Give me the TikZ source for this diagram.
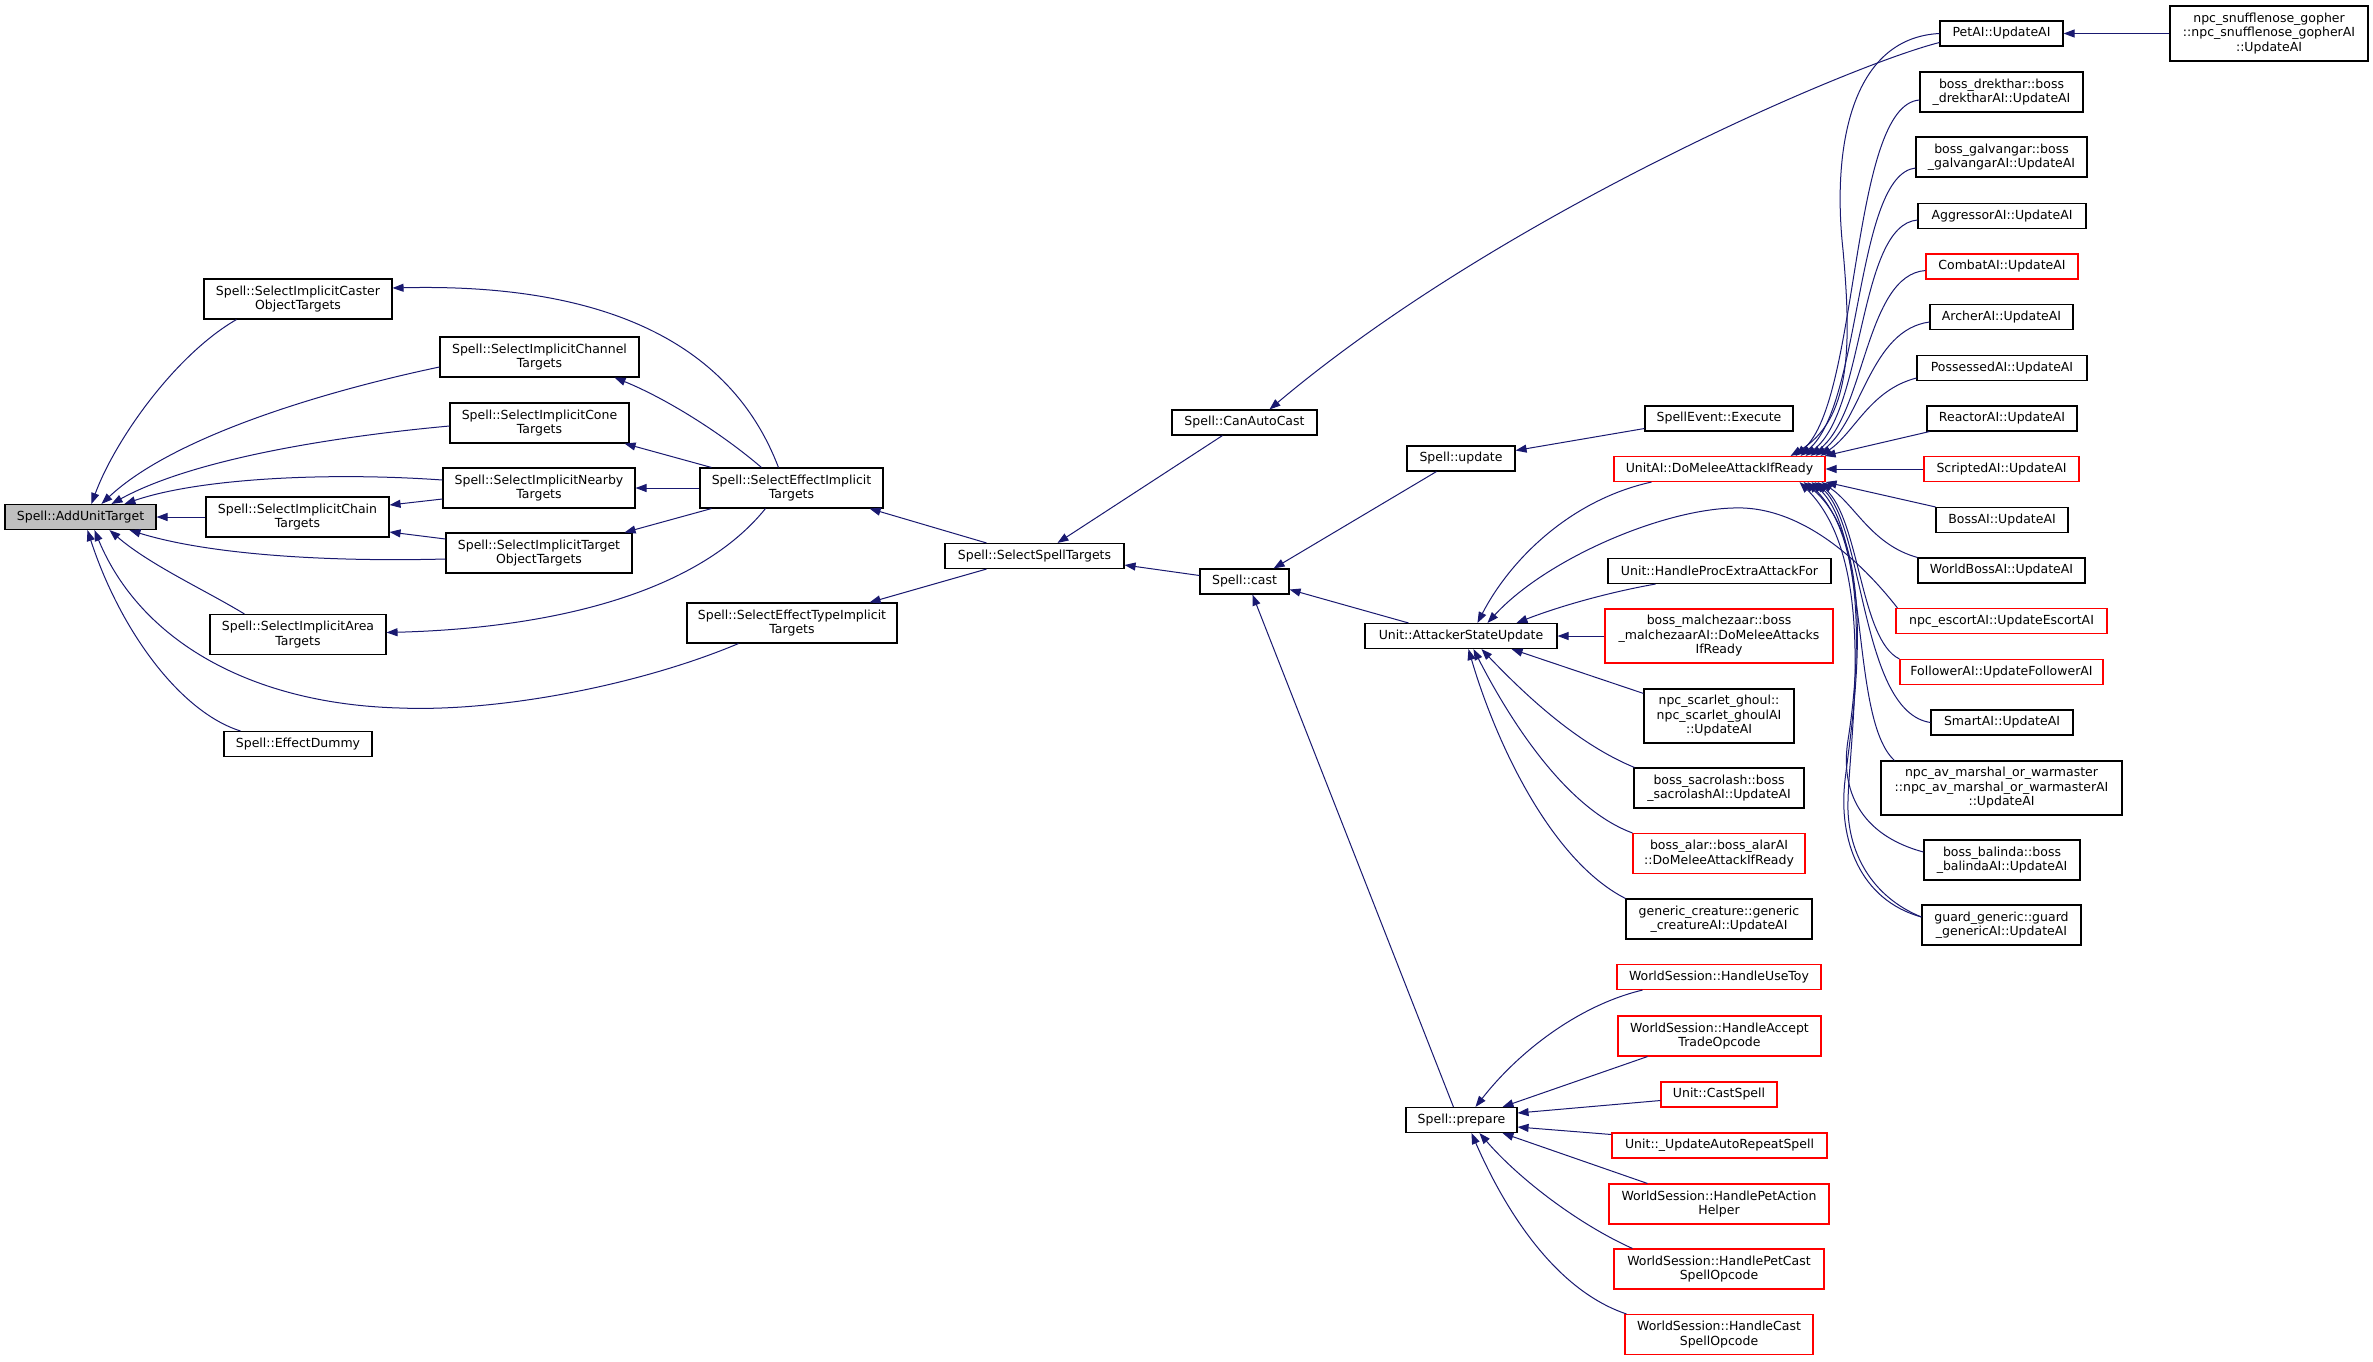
\documentclass[tikz,border=0pt]{standalone}
\usepackage{fontspec}
\setmainfont{DejaVu Sans}
\usetikzlibrary{arrows.meta}
\definecolor{edgec}{HTML}{191970}
\definecolor{gfill}{HTML}{BFBFBF}
\definecolor{redb}{HTML}{FF0000}
\begin{document}
\begin{tikzpicture}[x=1pt,y=-1pt,
  box/.style={draw=black, line width=1.1pt, rectangle, inner sep=0pt, align=center, font=\fontsize{12.5}{14.5}\selectfont},
  rbox/.style={box, draw=redb},
  bw/.style={minimum width=#1},
  h1/.style={minimum height=25pt},
  h2/.style={minimum height=40pt},
  h3/.style={minimum height=54pt},
  call/.style={draw=edgec, line width=1pt, -{Triangle[length=11pt,width=8pt]}},
  ]
\fill[white] (0,0) rectangle (2373,1361);
\useasboundingbox (0,0) rectangle (2373,1361);

% ---- nodes ----
\node[box, fill=gfill, bw=151pt, h1] (aut) at (80.5,517) {Spell::AddUnitTarget};
\node[box,bw=188pt,h2] (caster) at (298,299) {Spell::SelectImplicitCaster\\ObjectTargets};
\node[box,bw=199pt,h2] (channel) at (539.5,357) {Spell::SelectImplicitChannel\\Targets};
\node[box,bw=179pt,h2] (cone) at (539.5,423) {Spell::SelectImplicitCone\\Targets};
\node[box,bw=192pt,h2] (nearby) at (539,488) {Spell::SelectImplicitNearby\\Targets};
\node[box,bw=183pt,h2] (chain) at (297.5,517) {Spell::SelectImplicitChain\\Targets};
\node[box,bw=186pt,h2] (tobj) at (539,553) {Spell::SelectImplicitTarget\\ObjectTargets};
\node[box,bw=176pt,h2] (area) at (298,634.5) {Spell::SelectImplicitArea\\Targets};
\node[box,bw=148pt,h1] (dummy) at (298,744) {Spell::EffectDummy};
\node[box,bw=183pt,h2] (sei) at (791.5,488) {Spell::SelectEffectImplicit\\Targets};
\node[box,bw=210pt,h2] (seti) at (792,623) {Spell::SelectEffectTypeImplicit\\Targets};
\node[box,bw=179pt,h1] (sst) at (1034.5,556) {Spell::SelectSpellTargets};
\node[box,bw=145pt,h1] (cac) at (1244.5,422.5) {Spell::CanAutoCast};
\node[box,bw=89pt,h1] (cast) at (1244.5,581.5) {Spell::cast};
\node[box,bw=108pt,h1] (update) at (1461,458.5) {Spell::update};
\node[box,bw=148pt,h1] (see) at (1719,418.5) {SpellEvent::Execute};
\node[rbox,bw=211pt,h1] (domelee) at (1719.5,469) {UnitAI::DoMeleeAttackIfReady};
\node[box,bw=192pt,h1] (asu) at (1461,636) {Unit::AttackerStateUpdate};
\node[box,bw=223pt,h1] (hpeaf) at (1719.5,571) {Unit::HandleProcExtraAttackFor};
\node[rbox,bw=228pt,h3] (malch) at (1719,636) {boss\_malchezaar::boss\\\_malchezaarAI::DoMeleeAttacks\\IfReady};
\node[box,bw=150pt,h3] (ghoul) at (1719,716) {npc\_scarlet\_ghoul::\\npc\_scarlet\_ghoulAI\\::UpdateAI};
\node[box,bw=170pt,h2] (sacro) at (1719,788) {boss\_sacrolash::boss\\\_sacrolashAI::UpdateAI};
\node[rbox,bw=172pt,h2] (alar) at (1719,853.5) {boss\_alar::boss\_alarAI\\::DoMeleeAttackIfReady};
\node[box,bw=186pt,h2] (generic) at (1719,919) {generic\_creature::generic\\\_creatureAI::UpdateAI};

\node[box,bw=123pt,h1] (petai) at (2001.5,33.5) {PetAI::UpdateAI};
\node[box,bw=198pt,minimum height=55pt] (gopher) at (2269,33.5) {npc\_snufflenose\_gopher\\::npc\_snufflenose\_gopherAI\\::UpdateAI};
\node[box,bw=163pt,h2] (drek) at (2001.5,92) {boss\_drekthar::boss\\\_drektharAI::UpdateAI};
\node[box,bw=171pt,h2] (galv) at (2001.5,157) {boss\_galvangar::boss\\\_galvangarAI::UpdateAI};
\node[box,bw=168pt,h1] (aggr) at (2002,216) {AggressorAI::UpdateAI};
\node[rbox,bw=152pt,h1] (combat) at (2002,266.5) {CombatAI::UpdateAI};
\node[box,bw=143pt,h1] (archer) at (2001.5,317) {ArcherAI::UpdateAI};
\node[box,bw=170pt,h1] (poss) at (2002,368) {PossessedAI::UpdateAI};
\node[box,bw=150pt,h1] (react) at (2002,418.5) {ReactorAI::UpdateAI};
\node[rbox,bw=155pt,h1] (script) at (2001.5,469) {ScriptedAI::UpdateAI};
\node[box,bw=132pt,h1] (boss) at (2002,520) {BossAI::UpdateAI};
\node[box,bw=167pt,h1] (wboss) at (2001.5,570.5) {WorldBossAI::UpdateAI};
\node[rbox,bw=211pt,h1] (escort) at (2001.5,621) {npc\_escortAI::UpdateEscortAI};
\node[rbox,bw=203pt,h1] (follower) at (2001.5,672) {FollowerAI::UpdateFollowerAI};
\node[box,bw=142pt,h1] (smart) at (2002,722.5) {SmartAI::UpdateAI};
\node[box,bw=241pt,h3] (marshal) at (2001.5,788) {npc\_av\_marshal\_or\_warmaster\\::npc\_av\_marshal\_or\_warmasterAI\\::UpdateAI};
\node[box,bw=156pt,h2] (balinda) at (2002,860) {boss\_balinda::boss\\\_balindaAI::UpdateAI};
\node[box,bw=159pt,h2] (guard) at (2001.5,925) {guard\_generic::guard\\\_genericAI::UpdateAI};

\node[box,bw=111pt,h1] (prepare) at (1461.5,1120) {Spell::prepare};
\node[rbox,bw=204pt,h1] (usetoy) at (1719,977) {WorldSession::HandleUseToy};
\node[rbox,bw=203pt,h2] (accept) at (1719.5,1036) {WorldSession::HandleAccept\\TradeOpcode};
\node[rbox,bw=116pt,h1] (castspell) at (1719,1094.5) {Unit::CastSpell};
\node[rbox,bw=215pt,h1] (autorep) at (1719.5,1145.5) {Unit::\_UpdateAutoRepeatSpell};
\node[rbox,bw=220pt,h2] (petaction) at (1719,1204) {WorldSession::HandlePetAction\\Helper};
\node[rbox,bw=210pt,h2] (petcast) at (1719,1269) {WorldSession::HandlePetCast\\SpellOpcode};
\node[rbox,bw=188pt,h2] (castop) at (1719,1334.5) {WorldSession::HandleCast\\SpellOpcode};

% ---- edges into AddUnitTarget ----
\draw[call] ([xshift=33pt]caster.south west) .. controls (175,355) and (115,440) .. ([xshift=87pt]aut.north west);
\draw[call] ([yshift=-10pt]channel.west) .. controls (330,390) and (175,435) .. ([xshift=97pt]aut.north west);
\draw[call] ([yshift=-3pt]cone.west) .. controls (340,436) and (195,458) .. ([xshift=107pt]aut.north west);
\draw[call] ([yshift=8pt]nearby.west) .. controls (330,472) and (200,478) .. ([xshift=120pt]aut.north west);
\draw[call] (chain.west) -- (aut.east);
\draw[call] ([yshift=-6pt]tobj.west) .. controls (330,562) and (210,555) .. ([xshift=125pt]aut.south west);
\draw[call] ([xshift=35pt]area.north west) .. controls (205,590) and (150,565) .. ([xshift=105pt]aut.south west);
\draw[call] ([xshift=52pt]seti.south west) .. controls (640,685) and (500,712) .. (400,708) .. controls (250,704) and (140,640) .. ([xshift=90pt]aut.south west);
\draw[call] ([xshift=17pt]dummy.north west) .. controls (180,712) and (120,630) .. ([xshift=83pt]aut.south west);

% ---- into Chain ----
\draw[call] ([yshift=-11pt]nearby.west) -- ([yshift=12pt]chain.east);
\draw[call] ([yshift=14pt]tobj.west) -- ([yshift=-15pt]chain.east);

% ---- from SelectEffectImplicitTargets ----
\draw[call] ([xshift=79pt]sei.north west) .. controls (730,340) and (600,283) .. ([yshift=11pt]caster.east);
\draw[call] ([xshift=62pt]sei.north west) .. controls (720,432) and (665,398) .. ([xshift=-25pt]channel.south east);
\draw[call] ([xshift=12pt]sei.north west) -- ([xshift=-5pt]cone.south east);
\draw[call] (sei.west) -- (nearby.east);
\draw[call] ([xshift=12pt]sei.south west) -- ([xshift=-8pt]tobj.north east);
\draw[call] ([xshift=66pt]sei.south west) .. controls (700,590) and (560,628) .. ([yshift=2pt]area.east);

% ---- SelectSpellTargets ----
\draw[call] ([xshift=42pt]sst.north west) -- ([xshift=-14pt]sei.south east);
\draw[call] ([xshift=42pt]sst.south west) -- ([xshift=-28pt]seti.north east);
\draw[call] ([xshift=51pt]cac.south west) -- ([xshift=113pt]sst.north west);
\draw[call] ([yshift=6pt]cast.west) -- ([yshift=-9pt]sst.east);

% ---- CanAutoCast, cast ----
\draw[call] ([yshift=-9pt]petai.west) .. controls (1850,65) and (1500,215) .. ([xshift=98pt]cac.north west);
\draw[call] ([xshift=30pt]update.south west) -- ([xshift=-16pt]cast.north east);
\draw[call] ([xshift=44pt]asu.north west) -- ([yshift=-8pt]cast.east);
\draw[call] ([xshift=48pt]prepare.north west) -- ([xshift=53pt]cast.south west);
\draw[call] ([yshift=-10pt]see.west) -- ([yshift=8pt]update.east);

% ---- into AttackerStateUpdate ----
\draw[call] ([xshift=38pt]domelee.south west) .. controls (1570,500) and (1510,560) .. ([xshift=113pt]asu.north west);
\draw[call] ([xshift=2pt]escort.north west) .. controls (1860,560) and (1800,505) .. (1733,508) .. controls (1660,510) and (1545,560) .. ([xshift=123pt]asu.north west);
\draw[call] ([xshift=48pt]hpeaf.south west) .. controls (1610,592) and (1560,606) .. ([xshift=152pt]asu.north west);
\draw[call] (malch.west) -- (asu.east);
\draw[call] ([yshift=-5pt]ghoul.north west) -- ([xshift=-46pt]asu.south east);
\draw[call] ([xshift=1pt]sacro.north west) .. controls (1580,745) and (1530,700) .. ([xshift=117pt]asu.south west);
\draw[call] (alar.north west) .. controls (1570,810) and (1515,730) .. ([xshift=109pt]asu.south west);
\draw[call] (generic.north west) .. controls (1550,860) and (1495,740) .. ([xshift=104pt]asu.south west);

% ---- into prepare ----
\draw[call] ([xshift=26pt]usetoy.south west) .. controls (1580,1005) and (1520,1050) .. ([xshift=70pt]prepare.north west);
\draw[call] ([xshift=30pt]accept.south west) -- ([xshift=97pt]prepare.north west);
\draw[call] ([yshift=-6pt]castspell.west) -- ([yshift=7pt]prepare.east);
\draw[call] ([yshift=11pt]autorep.west) -- ([yshift=-7pt]prepare.east);
\draw[call] ([xshift=39pt]petaction.north west) -- ([xshift=97pt]prepare.south west);
\draw[call] ([xshift=19pt]petcast.north west) .. controls (1580,1225) and (1520,1180) .. ([xshift=74pt]prepare.south west);
\draw[call] ([xshift=2pt]castop.north west) .. controls (1555,1290) and (1505,1210) .. ([xshift=66pt]prepare.south west);

% ---- PetAI ----
\draw[call] (gopher.west) -- (petai.east);

% ---- into DoMeleeAttackIfReady ----
\draw[call] (petai.west) .. controls (1850,38) and (1832,150) .. (1843,250) .. controls (1852,350) and (1850,420) .. ([xshift=-35pt]domelee.north east);
\draw[call] ([yshift=-8pt]drek.west) .. controls (1850,105) and (1860,400) .. ([xshift=-30pt]domelee.north east);
\draw[call] ([yshift=-11pt]galv.west) .. controls (1855,175) and (1862,405) .. ([xshift=-25pt]domelee.north east);
\draw[call] ([yshift=-4pt]aggr.west) .. controls (1858,225) and (1865,410) .. ([xshift=-20pt]domelee.north east);
\draw[call] ([yshift=-4pt]combat.west) .. controls (1865,275) and (1865,415) .. ([xshift=-15pt]domelee.north east);
\draw[call] ([yshift=-5pt]archer.west) .. controls (1870,330) and (1862,420) .. ([xshift=-10pt]domelee.north east);
\draw[call] ([yshift=-10pt]poss.west) .. controls (1870,390) and (1855,432) .. ([xshift=-5pt]domelee.north east);
\draw[call] ([xshift=3pt]react.south west) -- ([xshift=-1pt]domelee.north east);
\draw[call] (script.west) -- (domelee.east);
\draw[call] (boss.north west) -- (domelee.south east);
\draw[call] (wboss.north west) .. controls (1872,545) and (1855,505) .. ([xshift=-4pt]domelee.south east);
\draw[call] (follower.north west) .. controls (1860,640) and (1860,520) .. ([xshift=-8pt]domelee.south east);
\draw[call] (smart.west) .. controls (1860,712) and (1865,525) .. ([xshift=-11pt]domelee.south east);
\draw[call] ([xshift=14pt]marshal.north west) .. controls (1850,720) and (1870,535) .. ([xshift=-14pt]domelee.south east);
\draw[call] ([yshift=8pt]balinda.west) .. controls (1860,835) and (1840,790) .. (1848,740) .. controls (1856,690) and (1872,545) .. ([xshift=-18pt]domelee.south east);
\draw[call] ([yshift=8pt]guard.west) .. controls (1860,900) and (1838,840) .. (1845,780) .. controls (1852,720) and (1882,545) .. ([xshift=-22pt]domelee.south east);
\draw[call] ([yshift=8pt]guard.west) .. controls (1872,897) and (1846,852) .. (1848,800) .. controls (1850,730) and (1878,560) .. ([xshift=-26pt]domelee.south east);
\end{tikzpicture}
\end{document}
